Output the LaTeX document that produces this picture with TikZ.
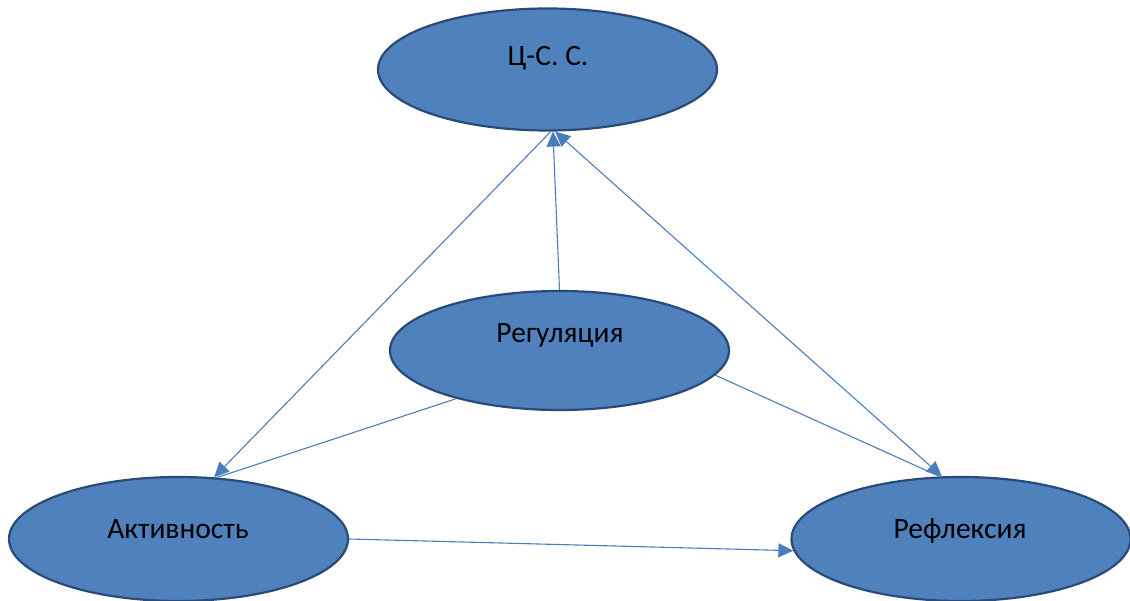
\documentclass[tikz,border=0pt]{standalone}
\usepackage{fontspec}
\setmainfont{Carlito}
\usetikzlibrary{shapes.geometric,arrows.meta}
\definecolor{fillblue}{HTML}{4F81BD}
\definecolor{edgeblue}{HTML}{2A4A78}
\definecolor{lineblue}{HTML}{4A7EBB}
\tikzset{
  oval/.style={ellipse, draw=edgeblue, fill=fillblue, line width=2.2pt, minimum width=339pt, minimum height=122pt, inner sep=0pt},
  lbl/.style={font=\fontsize{29.5}{32}\selectfont, text=black, anchor=base, inner sep=0pt},
  conn/.style={draw=lineblue, line width=1.1pt},
  tipend/.style={-{Triangle[length=15pt,width=14pt]}},
  tipboth/.style={{Triangle[length=15pt,width=14pt]}-{Triangle[length=15pt,width=14pt]}}
}
\begin{document}
\begin{tikzpicture}[x=1pt,y=-1pt]
\useasboundingbox[fill=white] (0,0) rectangle (1130,601);
\node[oval] (css) at (547.5,69.5) {};
\node[oval, minimum height=119pt] (reg) at (559.5,350.5) {};
\node[oval, minimum height=124pt] (akt) at (178.5,539) {};
\node[oval, minimum height=124pt] (ref) at (961,539) {};
\node[lbl] (csst) at (548,66) {Ц-С. С.};
\node[lbl] (regt) at (560,343) {Регуляция};
\node[lbl] (aktt) at (178,538) {Активность};
\node[lbl] (reft) at (960,538) {Рефлексия};
\draw[conn, tipend] (reg.north) -- (css.-85);
\draw[conn, tipend] (css.-87) -- (akt.60);
\draw[conn, tipboth] (ref.107) -- (css.-83);
\draw[conn] (reg.205) -- (akt.58);
\draw[conn] (reg.-9.5) -- (ref.109);
\draw[conn, tipend] (akt.east) -- (ref.184);
\end{tikzpicture}
\end{document}
